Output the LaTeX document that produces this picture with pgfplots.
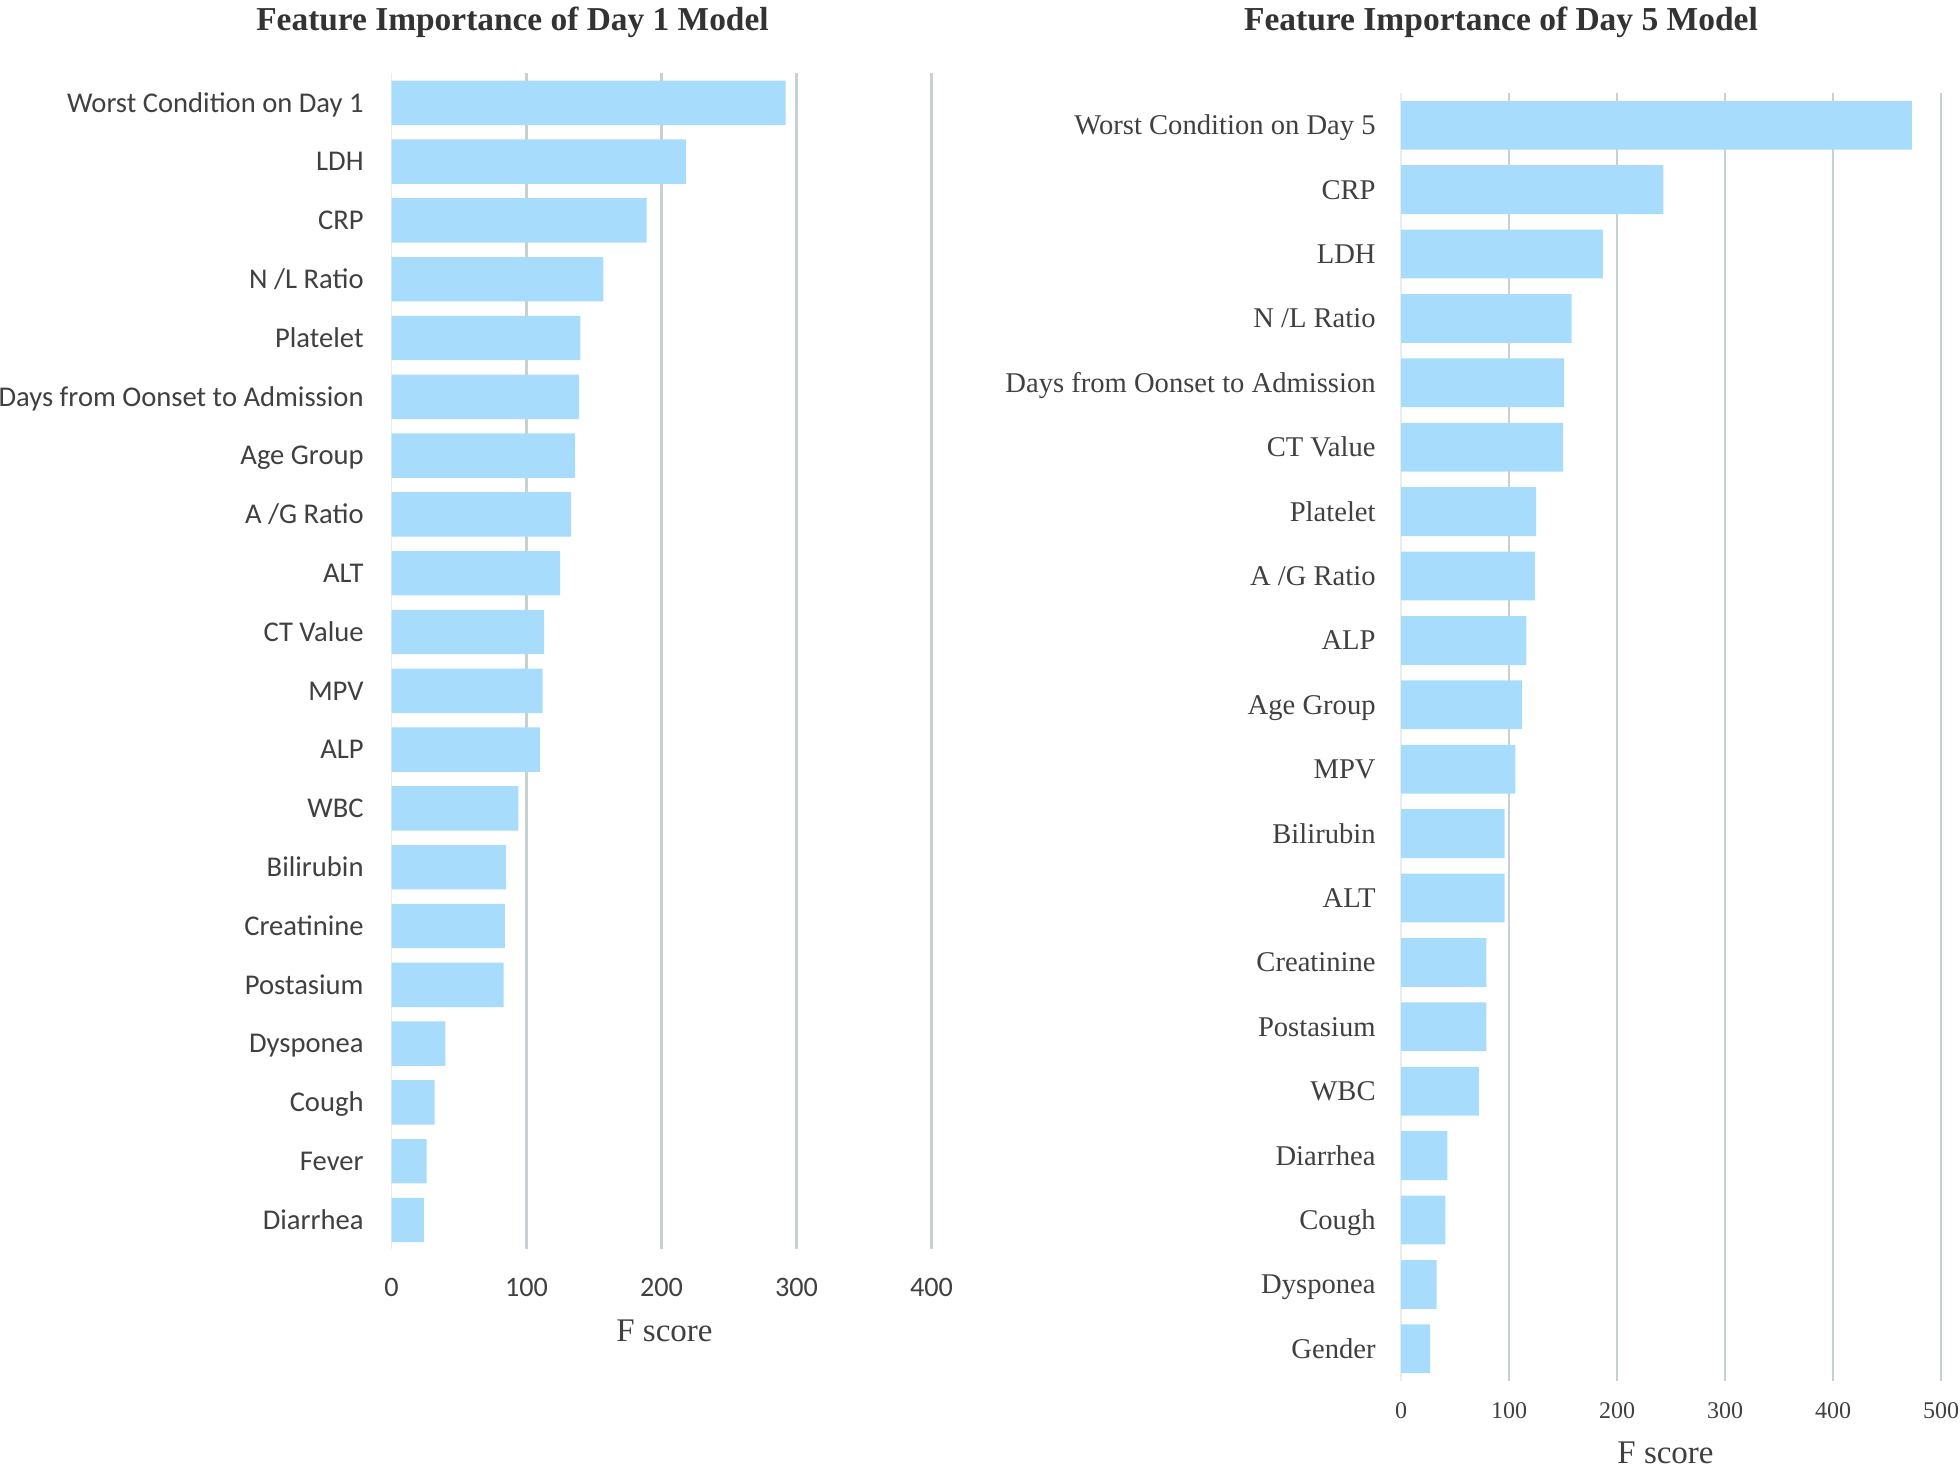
\documentclass[border=0pt]{standalone}
\usepackage{fontspec}
\setmainfont{Liberation Serif}
\newfontfamily\carlito{Carlito}
\usepackage{pgfplots}
\usepackage{pgfplotstable}
\pgfplotsset{compat=1.18}
\definecolor{barblue}{RGB}{168,220,253}
\definecolor{gridc}{RGB}{200,209,209}
\definecolor{zeroc}{RGB}{236,236,236}
\definecolor{txt}{RGB}{64,64,64}
\definecolor{ttl}{RGB}{51,51,51}
\pgfplotstableread{
i v
0 292
1 218
2 189
3 157
4 140
5 139
6 136
7 133
8 125
9 113
10 112
11 110
12 94
13 85
14 84
15 83
16 40
17 32
18 26
19 24
}\dayone
\pgfplotstableread{
i v
0 473
1 243
2 187
3 158
4 151
5 150
6 125
7 124
8 116
9 112
10 106
11 96
12 96
13 79
14 79
15 72
16 43
17 41
18 33
19 27
}\dayfive
\pgfplotsset{
  fi/.style={
    scale only axis, width=270pt,
    ymin=-0.5, ymax=19.5, y dir=reverse, enlargelimits=false,
    xbar, bar shift=0pt,
    xmajorgrids, grid style={draw=gridc, line width=1.1pt},
    extra x ticks={0}, extra x tick style={grid style={draw=zeroc, line width=0.7pt}},
    axis line style={draw=none}, major tick length=0pt, minor tick length=0pt,
    ytick={0,...,19},
    /pgf/number format/assume math mode=true,
    clip=false,
  }
}
\begin{document}
\begin{tikzpicture}
\useasboundingbox (0,0) rectangle (980pt,737pt);
\begin{axis}[fi, at={(195.75pt,112.3pt)}, anchor=south west, height=588pt,
  xmin=0, xmax=400, xtick={100,200,300,400}, bar width=22.2pt,
  yticklabels={Worst Condition on Day 1,LDH,CRP,N /L Ratio,Platelet,Days from Oonset to Admission,Age Group,A /G Ratio,ALT,CT Value,MPV,ALP,WBC,Bilirubin,Creatinine,Postasium,Dysponea,Cough,Fever,Diarrhea},
  yticklabel style={font=\carlito\fontsize{14.3}{16}\selectfont, text=txt, anchor=base east, inner sep=0pt, xshift=-13.75pt, yshift=-4.6pt},
  xticklabel style={font=\carlito\fontsize{14.1}{16}\selectfont, text=txt, anchor=base, inner sep=0pt, yshift=-23.6pt},
]
\addplot[fill=barblue, draw=none] table[x=v, y=i] {\dayone};
\end{axis}
\begin{axis}[fi, at={(700.5pt,46.5pt)}, anchor=south west, height=644pt,
  xmin=0, xmax=500, xtick={100,200,300,400,500}, bar width=24.4pt,
  yticklabels={Worst Condition on Day 5,CRP,LDH,N /L Ratio,Days from Oonset to Admission,CT Value,Platelet,A /G Ratio,ALP,Age Group,MPV,Bilirubin,ALT,Creatinine,Postasium,WBC,Diarrhea,Cough,Dysponea,Gender},
  yticklabel style={font=\fontsize{14.3}{16}\selectfont, text=txt, anchor=base east, inner sep=0pt, xshift=-12.5pt, yshift=-4.72pt},
  xticklabel style={font=\fontsize{12}{14}\selectfont, text=txt, anchor=base, inner sep=0pt, yshift=-18.5pt},
]
\addplot[fill=barblue, draw=none] table[x=v, y=i] {\dayfive};
\end{axis}
\node[anchor=base, font=\bfseries\fontsize{16.7}{20}\selectfont, text=ttl, inner sep=0pt] at (256.25pt,721.5pt) {Feature Importance of Day 1 Model};
\node[anchor=base, font=\bfseries\fontsize{16.75}{20}\selectfont, text=ttl, inner sep=0pt] at (750.5pt,721.65pt) {Feature Importance of Day 5 Model};
\node[anchor=base, font=\fontsize{16.5}{20}\selectfont, text=txt, inner sep=0pt] at (332.25pt,66.15pt) {F score};
\node[anchor=base, font=\fontsize{16.5}{20}\selectfont, text=txt, inner sep=0pt] at (832.75pt,5.35pt) {F score};
\end{tikzpicture}
\end{document}
